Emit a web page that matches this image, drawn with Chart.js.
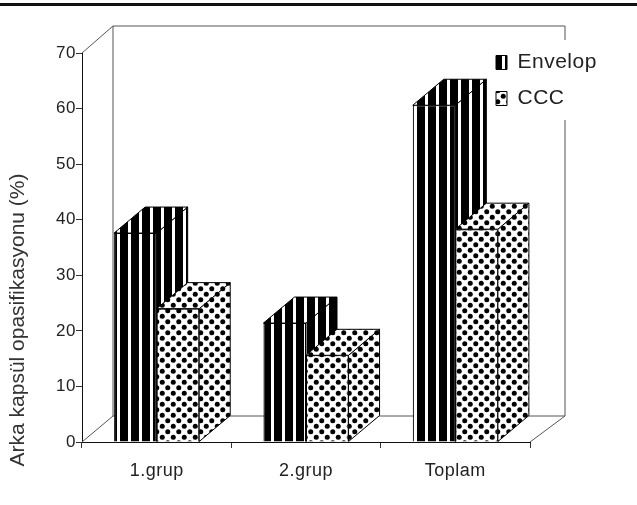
<!DOCTYPE html>
<html>
<head>
<meta charset="utf-8">
<title>Arka kapsül opasifikasyonu</title>
<script src="https://cdn.jsdelivr.net/npm/chart.js@4"></script>
<style>
    html, body { margin: 0; padding: 0; background: #fff; }
    canvas { display: block; }
</style>
</head>
<body>
<canvas id="chart" width="637" height="505"></canvas>
<script>
const categories = ['1.grup', '2.grup', 'Toplam'];
const envelop = [37.6, 21.4, 60.6];
const ccc = [24, 15.6, 38.3];
const yTicks = [0, 10, 20, 30, 40, 50, 60, 70];
const yTitle = 'Arka kapsül opasifikasyonu (%)';

const FONT = '"Liberation Sans", sans-serif';
const DX = 31, DY = 26; // fake 3d depth

function stripes() {
    const c = document.createElement('canvas');
    c.width = 11; c.height = 4;
    const g = c.getContext('2d');
    g.fillStyle = '#000';
    g.fillRect(0, 0, 11, 4);
    g.fillStyle = '#fff';
    g.fillRect(7, 0, 3, 4);
    return g.createPattern(c, 'repeat');
}

function dots() {
    const c = document.createElement('canvas');
    c.width = 11; c.height = 11;
    const g = c.getContext('2d');
    g.fillStyle = '#fff';
    g.fillRect(0, 0, 11, 11);
    g.fillStyle = '#000';
    [[2.75, 2.75], [8.25, 8.25]].forEach(p => {
        g.beginPath();
        g.arc(p[0], p[1], 2.5, 0, Math.PI * 2);
        g.fill();
    });
    return g.createPattern(c, 'repeat');
}

const stripeFill = stripes();
const dotFill = dots();

function poly(ctx, pts, fill) {
    ctx.beginPath();
    pts.forEach((p, i) => i ? ctx.lineTo(p[0], p[1]) : ctx.moveTo(p[0], p[1]));
    ctx.closePath();
    ctx.fillStyle = fill;
    ctx.fill();
    ctx.strokeStyle = '#000';
    ctx.lineWidth = 1;
    ctx.stroke();
}

// side and top faces of one dataset's bars
function drawFaces(chart, index) {
    const ctx = chart.ctx;
    const fill = chart.data.datasets[index].backgroundColor;
    chart.getDatasetMeta(index).data.forEach(bar => {
        const l = bar.x - bar.width / 2, r = bar.x + bar.width / 2;
        const t = bar.y, b = bar.base;
        poly(ctx, [[r, t], [r + DX, t - DY], [r + DX, b - DY], [r, b]], fill);
        poly(ctx, [[l, t], [l + DX, t - DY], [r + DX, t - DY], [r, t]], fill);
    });
}

const scene = {
    id: 'scene',
    beforeDraw(chart) {
        // the scan has slightly spaced lettering
        chart.ctx.letterSpacing = '0.5px';
    },
    beforeDatasetsDraw(chart) {
        const ctx = chart.ctx, a = chart.chartArea;
        ctx.save();
        // rule at the top of the page
        ctx.fillStyle = '#111';
        ctx.fillRect(0, 3, chart.width, 3);
        // back walls and floor
        ctx.strokeStyle = '#555';
        ctx.lineWidth = 1;
        ctx.beginPath();
        ctx.moveTo(a.left, a.top);
        ctx.lineTo(a.left + DX, a.top - DY - 1);
        ctx.lineTo(a.right + 35, a.top - DY - 1);
        ctx.lineTo(a.right + 35, a.top - 13);
        ctx.moveTo(a.right + 35, a.top + 67);
        ctx.lineTo(a.right + 35, a.bottom - DY);
        ctx.lineTo(a.right, a.bottom);
        ctx.moveTo(a.right + 35, a.bottom - DY);
        ctx.lineTo(a.left + DX, a.bottom - DY);
        ctx.lineTo(a.left, a.bottom);
        ctx.moveTo(a.left + DX, a.bottom - DY);
        ctx.lineTo(a.left + DX, a.top - DY - 1);
        ctx.stroke();
        // axis title sits lower than the plot centre
        ctx.letterSpacing = '0px';
        ctx.translate(18, 320);
        ctx.rotate(-Math.PI / 2);
        ctx.fillStyle = '#333';
        ctx.font = '21px ' + FONT;
        ctx.textAlign = 'center';
        ctx.textBaseline = 'middle';
        ctx.fillText(yTitle, 0, 0);
        ctx.restore();
        drawFaces(chart, 0);
    },
    afterDatasetsDraw(chart) {
        drawFaces(chart, 1);
    },
    afterLayout(chart) {
        const lg = chart.legend;
        const w = lg.width, h = lg.height;
        lg.left = 481; lg.top = 37;
        lg.right = lg.left + w; lg.bottom = lg.top + h;
    }
};

new Chart(document.getElementById('chart'), {
    type: 'bar',
    data: {
        labels: categories,
        datasets: [
            { label: 'Envelop', data: envelop, backgroundColor: stripeFill, borderColor: '#000', borderWidth: 1 },
            { label: 'CCC', data: ccc, backgroundColor: dotFill, borderColor: '#000', borderWidth: 1 }
        ]
    },
    options: {
        responsive: false,
        animation: false,
        layout: { padding: { top: 53, right: 107, left: 0, bottom: 0 } },
        datasets: { bar: { categoryPercentage: 0.57, barPercentage: 1 } },
        scales: {
            x: {
                afterFit(s) { s.height = 63; },
                grid: { offset: true, drawOnChartArea: false, color: '#333', tickLength: 6 },
                border: { color: '#111' },
                ticks: { color: '#222', font: { family: FONT, size: 18 }, padding: 12, maxRotation: 0 }
            },
            y: {
                min: 0,
                max: 70,
                afterFit(s) { s.width = 82; },
                afterBuildTicks(s) { s.ticks = yTicks.map(v => ({ value: v })); },
                grid: { drawOnChartArea: false, color: '#333', tickLength: 6 },
                border: { color: '#111' },
                ticks: { color: '#222', font: { family: FONT, size: 17 }, padding: 0 }
            }
        },
        plugins: {
            title: { display: false },
            tooltip: { enabled: false },
            legend: {
                position: 'chartArea',
                align: 'start',
                labels: {
                    color: '#222',
                    font: { family: FONT, size: 21 },
                    boxWidth: 11,
                    boxHeight: 14,
                    padding: 15
                }
            }
        }
    },
    plugins: [scene]
});
</script>
</body>
</html>
